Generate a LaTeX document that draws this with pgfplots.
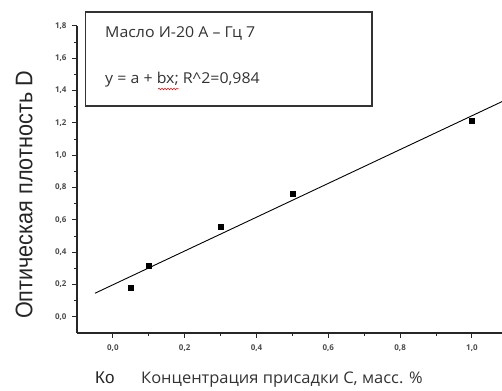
\documentclass[border=0pt]{standalone}
\usepackage{fontspec}
\setmainfont{Open Sans}
\newfontfamily\arial{Liberation Sans}
\usepackage{pgfplots}
\pgfplotsset{compat=1.18}
\usetikzlibrary{decorations.pathmorphing}
\begin{document}
\begin{tikzpicture}[x=1pt,y=1pt]
\useasboundingbox (0pt,0pt) rectangle (502pt,390pt);
\clip (0pt,0pt) rectangle (502pt,390pt);
\begin{axis}[
  at={(77pt,57pt)}, anchor=south west, scale only axis,
  width=430.8pt, height=307pt,
  xmin=-0.1, xmax=1.1, ymin=-0.1, ymax=1.8,
  axis x line*=bottom, axis y line*=left,
  axis line style={line width=1.3pt, black!85, -},
  xtick={0,0.2,0.4,0.6,0.8,1.0},
  ytick={0,0.2,0.4,0.6,0.8,1.0,1.2,1.4,1.6,1.8},
  minor tick num=1,
  tick align=outside,
  major tick length=5pt, minor tick length=3pt,
  tick style={line width=1pt, black!85},
  ticklabel style={font=\fontsize{8}{9}\selectfont\bfseries, text=black!70},
  xticklabel style={yshift=-3pt},
  yticklabel style={xshift=-2pt},
  /pgf/number format/.cd, use comma, fixed, fixed zerofill, precision=1, assume math mode=true,
]
\addplot[only marks, mark=square*, mark size=2.4pt, black]
  coordinates {(0.05,0.18)(0.1,0.315)(0.3,0.558)(0.5,0.762)(1.0,1.212)};
\addplot[black, line width=0.9pt]
  coordinates {(-0.05,0.146)(1.1,1.349)};
\end{axis}
% legend-like box
\draw[line width=1.3pt, black!80] (85.5pt,284pt) rectangle (372pt,378pt);
\node[anchor=west, inner sep=0pt, font=\fontsize{15}{17}\selectfont, text=black!80] at (105pt,357pt) {\scalebox{1.06}[1]{Масло И-20 А – Гц 7}};
\node[anchor=west, inner sep=0pt, font=\fontsize{15}{17}\selectfont, text=black!80] at (105pt,310pt) {\scalebox{1.06}[1]{y = a + bx; R\^{}2=0,984}};
\draw[red, line width=0.5pt, decoration={snake, amplitude=0.8pt, segment length=3pt}, decorate] (158pt,301pt) -- (179pt,301pt);
% axis labels
\node[rotate=90, font=\arial\fontsize{24}{26}\selectfont, text=black!85] at (24pt,195pt) {\scalebox{0.9}[1]{Оптическая плотность D}};
\node[anchor=base west, inner sep=0pt, font=\arial\fontsize{17}{19}\selectfont, text=black!85] at (95pt,7pt) {Ко};
\node[anchor=base west, inner sep=0pt, font=\fontsize{16}{18}\selectfont, text=black!80] at (141pt,7pt) {\scalebox{1.03}[1]{Концентрация присадки С, масс. \%}};
\end{tikzpicture}
\end{document}
